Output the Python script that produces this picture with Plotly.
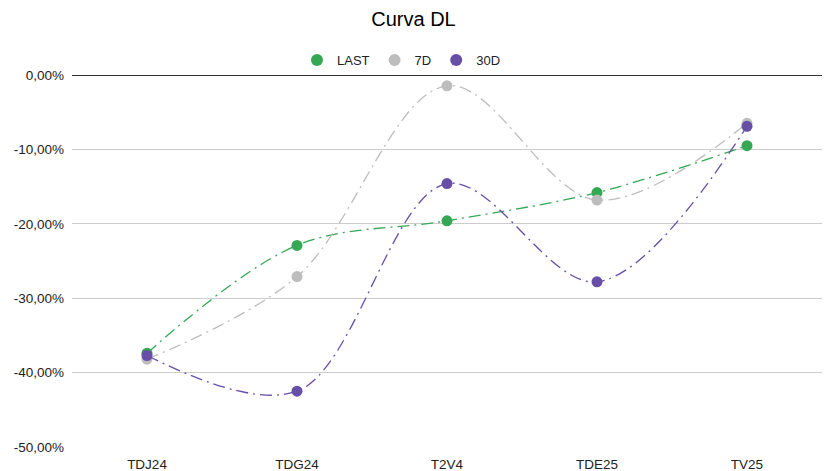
import plotly.graph_objects as go

categories = ["TDJ24", "TDG24", "T2V4", "TDE25", "TV25"]
last_vals = [-0.374, -0.229, -0.196, -0.158, -0.095]
d7_vals = [-0.382, -0.271, -0.0145, -0.168, -0.065]
d30_vals = [-0.377, -0.425, -0.146, -0.278, -0.069]

tick_vals = [0, -0.1, -0.2, -0.3, -0.4, -0.5]
tick_text = ["0,00%", "-10,00%", "-20,00%", "-30,00%", "-40,00%", "-50,00%"]

series = [
    ("LAST", last_vals, "#34a853"),
    ("7D", d7_vals, "#bdbdbd"),
    ("30D", d30_vals, "#674ea7"),
]

fig = go.Figure()
for name, vals, color in series:
    fig.add_trace(go.Scatter(
        x=categories, y=vals, name=name, mode="lines+markers",
        line=dict(color=color, width=1.3, shape="spline", smoothing=1.0,
                  dash="12px,5px,2px,5px"),
        marker=dict(color=color, size=11),
        cliponaxis=False, showlegend=False, legendgroup=name,
    ))
# legend entries showing only the circle symbol
for name, vals, color in series:
    fig.add_trace(go.Scatter(
        x=[None], y=[None], name=name, mode="markers",
        marker=dict(color=color, size=12), legendgroup=name, showlegend=True,
    ))

fig.update_layout(
    width=827, height=471,
    margin=dict(l=72, r=5, t=75, b=24),
    paper_bgcolor="white", plot_bgcolor="white",
    font=dict(family="Liberation Sans, Arial, sans-serif", size=13, color="#222222"),
    title=dict(text="Curva DL", x=0.5, xanchor="center", y=0.975, yanchor="top",
               font=dict(size=20, color="#000000")),
    legend=dict(orientation="h", x=0.3, xanchor="left",
                y=1.0, yanchor="bottom",
                font=dict(size=13, color="#222222"), itemsizing="constant",
                traceorder="normal"),
    showlegend=True,
)
fig.update_xaxes(showgrid=False, showline=False, zeroline=False, ticks="",
                 tickfont=dict(size=13.5, color="#222222"), range=[-0.5, 4.5],
                 ticklabelstandoff=7, automargin=False)
fig.update_yaxes(range=[-0.5, 0], tickvals=tick_vals, ticktext=tick_text,
                 showgrid=True, gridcolor="#cccccc", gridwidth=1,
                 zeroline=True, zerolinecolor="#333333", zerolinewidth=1.3,
                 showline=False, ticks="", ticklen=0, ticklabelstandoff=7,
                 automargin=False,
                 tickfont=dict(size=13.5, color="#222222"))

fig.write_html("out.html")
